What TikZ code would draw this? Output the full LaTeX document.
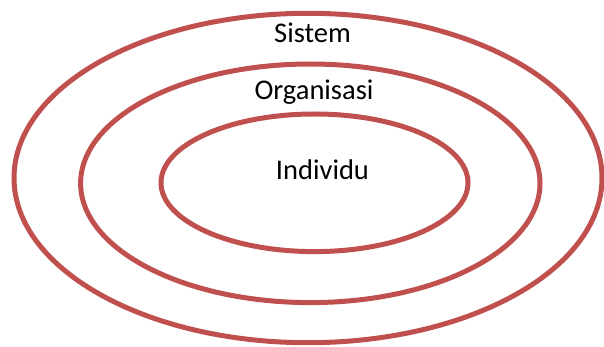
\documentclass[tikz,border=0pt]{standalone}
\usepackage{fontspec}
\setmainfont{Carlito}
\definecolor{ringred}{HTML}{C0504D}
\begin{document}
\begin{tikzpicture}[x=1pt,y=-1pt,
  ring/.style={draw=ringred,line width=5pt},
  lbl/.style={anchor=base,inner sep=0pt,font=\fontsize{28.5}{30}\selectfont}]
\useasboundingbox (0,0) rectangle (604,347);
\draw[ring] (308,178) ellipse (294 and 164.7);
\draw[ring] (310.3,183.3) ellipse (229.7 and 119.3);
\draw[ring] (314.5,182.8) ellipse (153.5 and 68.8);
\node[lbl] (sistem) at (312.5,42.7) {Sistem};
\node[lbl] (org) at (314,100) {Organisasi};
\node[lbl] (ind) at (322.5,180) {Individu};
\end{tikzpicture}
\end{document}
